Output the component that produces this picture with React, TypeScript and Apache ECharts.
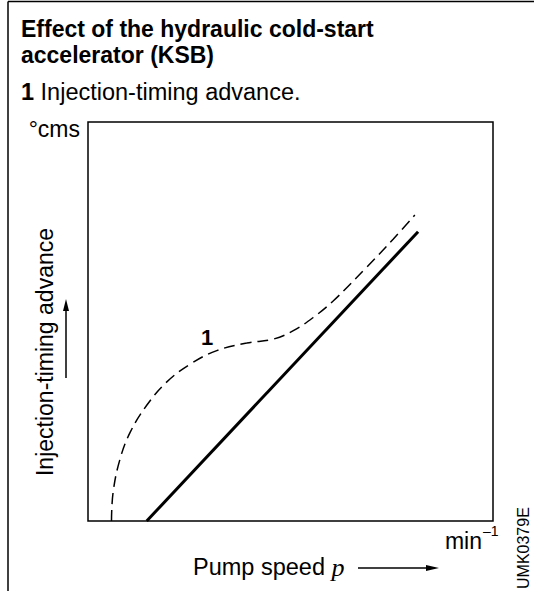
import React, { useEffect, useRef } from "react";
import * as echarts from "echarts";

// Pump speed (x, % of axis) and injection-timing advance (y, % of axis)
const ksbSpeed = [5.8, 6.2, 7.9, 10.4, 14.5, 19.4, 25.2, 31.8, 39.2, 45.8, 50.7, 55.6, 60.6, 68.8, 75.4, 80.7];
const ksbAdvance = [0, 7.2, 15.5, 22.2, 29, 34.8, 39.3, 42.7, 44.6, 45.6, 47.7, 51, 55.2, 63.6, 70.7, 76.7];
const baseSpeed = [14.5, 81.5];
const baseAdvance = [0, 72.5];

const titleLines = ["Effect of the hydraulic cold-start", "accelerator (KSB)"];
const subtitle = "Injection-timing advance.";
const yUnit = "°cms";
const yName = "Injection-timing advance";
const xName = "Pump speed";
const xUnit = "min";
const figureCode = "UMK0379E";

const FONT = "Liberation Sans, Arial, Helvetica, sans-serif";

export default function App() {
  const ref = useRef<HTMLDivElement>(null);
  useEffect(() => {
    if (!ref.current) return;
    const chart = echarts.init(ref.current, null, { renderer: "svg" });
    const zip = (xs: number[], ys: number[]) => xs.map((x, i) => [x, ys[i]]);
    const option: any = {
      animation: false,
      backgroundColor: "#fff",
      grid: {
        left: 88,
        top: 122,
        width: 405,
        height: 399,
        show: true,
        borderColor: "#000",
        borderWidth: 1.5,
        backgroundColor: "transparent",
      },
      xAxis: {
        type: "value",
        min: 0,
        max: 100,
        axisLine: { show: false },
        axisTick: { show: false },
        axisLabel: { show: false },
        splitLine: { show: false },
      },
      yAxis: {
        type: "value",
        min: 0,
        max: 100,
        axisLine: { show: false },
        axisTick: { show: false },
        axisLabel: { show: false },
        splitLine: { show: false },
      },
      series: [
        {
          type: "line",
          data: zip(baseSpeed, baseAdvance),
          symbol: "none",
          lineStyle: { color: "#000", width: 3 },
        },
        {
          type: "line",
          data: zip(ksbSpeed, ksbAdvance),
          symbol: "none",
          smooth: 0.4,
          lineStyle: { color: "#000", width: 1.5, type: [11, 6] },
        },
      ],
      graphic: [
        { type: "line", shape: { x1: 8, y1: 1.5, x2: 534, y2: 1.5 }, style: { stroke: "#000", lineWidth: 1.5 } },
        { type: "line", shape: { x1: 8, y1: 1.5, x2: 8, y2: 591 }, style: { stroke: "#000", lineWidth: 1.5 } },
        {
          type: "text", x: 21, y: 29,
          style: { text: titleLines[0], font: `bold 23px ${FONT}`, fill: "#000", verticalAlign: "middle" },
        },
        {
          type: "text", x: 21, y: 55,
          style: { text: titleLines[1], font: `bold 23px ${FONT}`, fill: "#000", verticalAlign: "middle" },
        },
        {
          type: "text", x: 21, y: 92,
          style: {
            text: "{b|1} " + subtitle,
            font: `23.5px ${FONT}`, fill: "#000", verticalAlign: "middle",
            rich: { b: { fontWeight: "bold", fontSize: 23.5, fontFamily: FONT } },
          },
        },
        {
          type: "text", x: 80, y: 129,
          style: { text: yUnit, font: `23px ${FONT}`, fill: "#000", align: "right", verticalAlign: "middle" },
        },
        {
          type: "text", x: 45, y: 352, rotation: Math.PI / 2,
          style: { text: yName, font: `23px ${FONT}`, fill: "#000", align: "center", verticalAlign: "middle" },
        },
        { type: "line", shape: { x1: 66, y1: 378, x2: 66, y2: 308 }, style: { stroke: "#000", lineWidth: 1.5 } },
        { type: "polygon", shape: { points: [[66, 299], [63, 311], [69, 311]] }, style: { fill: "#000" } },
        {
          type: "text", x: 482, y: 541,
          style: { text: xUnit, font: `23px ${FONT}`, fill: "#000", align: "right", verticalAlign: "middle" },
        },
        {
          type: "text", x: 483, y: 531,
          style: { text: "–1", font: `14px ${FONT}`, fill: "#000", align: "left", verticalAlign: "middle" },
        },
        {
          type: "text", x: 193, y: 567,
          style: {
            text: xName + " {p|p}",
            font: `23.5px ${FONT}`, fill: "#000", verticalAlign: "middle",
            rich: { p: { fontStyle: "italic", fontSize: 26, fontFamily: "Liberation Serif, Times New Roman, serif" } },
          },
        },
        { type: "line", shape: { x1: 358, y1: 568, x2: 427, y2: 568 }, style: { stroke: "#000", lineWidth: 1.5 } },
        { type: "polygon", shape: { points: [[439, 568], [426, 565], [426, 571]] }, style: { fill: "#000" } },
        {
          type: "text", x: 207, y: 337,
          style: { text: "1", font: `bold 22px ${FONT}`, fill: "#000", align: "center", verticalAlign: "middle" },
        },
        {
          type: "text", x: 523, y: 589, rotation: Math.PI / 2,
          style: { text: figureCode, font: `16px ${FONT}`, fill: "#000", align: "left", verticalAlign: "middle" },
        },
      ],
    };
    chart.setOption(option);
    return () => chart.dispose();
  }, []);
  return (
    <div
      ref={ref}
      style={{ position: "fixed", left: 0, top: 0, width: 534, height: 591 }}
    />
  );
}
